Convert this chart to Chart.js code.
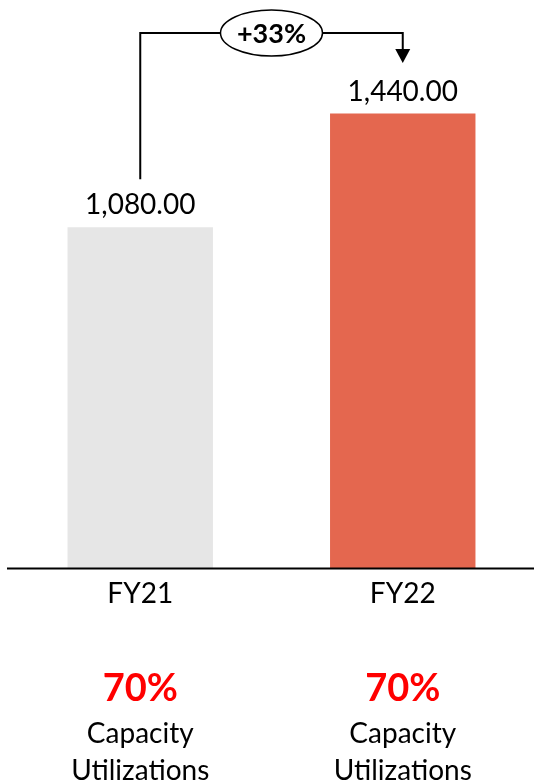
<!DOCTYPE html>
<html>
<head>
<meta charset="utf-8">
<script src="https://cdn.jsdelivr.net/npm/chart.js@4/dist/chart.umd.min.js"></script>
<style>
html,body{margin:0;padding:0;background:#fff;overflow:hidden;}
#wrap{width:534px;height:784px;position:relative;}
</style>
</head>
<body>
<div id="wrap"><canvas id="c" width="534" height="784"></canvas></div>
<script>
const categories = ["FY21", "FY22"];
const values = [1080, 1440];
const barColors = ["#E6E6E6", "#E4674F"];
const utilization = ["70%", "70%"];
const utilLines = ["Capacity", "Utilizations"];
const growthLabel = "+33%";
const yMax = 1800;

const FONT = "Lato, 'Open Sans', sans-serif";

const overlay = {
  id: 'overlay',
  afterDatasetsDraw(chart) {
    const ctx = chart.ctx;
    const xs = chart.scales.x, ys = chart.scales.y;
    const meta = chart.getDatasetMeta(0);
    ctx.save();
    // baseline
    const base = ys.getPixelForValue(0);
    ctx.strokeStyle = '#000';
    ctx.lineWidth = 2;
    ctx.beginPath();
    ctx.moveTo(7, base + 0.5);
    ctx.lineTo(chart.width, base + 0.5);
    ctx.stroke();

    // value labels
    ctx.fillStyle = '#000';
    ctx.font = '28px ' + FONT;
    ctx.textAlign = 'center';
    ctx.textBaseline = 'alphabetic';
    meta.data.forEach((bar, i) => {
      const v = values[i].toLocaleString('en-US', {minimumFractionDigits: 2, maximumFractionDigits: 2});
      ctx.fillText(v, bar.x, bar.y - 13);
    });

    // bottom utilization texts
    categories.forEach((c, i) => {
      const x = xs.getPixelForValue(i);
      ctx.fillStyle = '#FF0000';
      ctx.font = 'bold 38px ' + FONT;
      ctx.fillText(utilization[i], x, 701);
      ctx.fillStyle = '#000';
      ctx.font = '28px ' + FONT;
      ctx.fillText(utilLines[0], x, 743);
      ctx.fillText(utilLines[1], x, 780);
    });

    // connector with arrow
    const b0 = meta.data[0], b1 = meta.data[1];
    const topY = 33;
    const startY = b0.y - 48;
    const endY = 63;
    ctx.strokeStyle = '#000';
    ctx.lineWidth = 2;
    ctx.beginPath();
    ctx.moveTo(b0.x, startY);
    ctx.lineTo(b0.x, topY);
    ctx.lineTo(b1.x, topY);
    ctx.lineTo(b1.x, endY - 12);
    ctx.stroke();
    ctx.fillStyle = '#000';
    ctx.beginPath();
    ctx.moveTo(b1.x - 7.5, endY - 14);
    ctx.lineTo(b1.x + 7.5, endY - 14);
    ctx.lineTo(b1.x, endY);
    ctx.closePath();
    ctx.fill();

    // ellipse
    const cx = (b0.x + b1.x) / 2;
    ctx.beginPath();
    ctx.ellipse(cx, topY, 51, 23, 0, 0, Math.PI * 2);
    ctx.fillStyle = '#fff';
    ctx.fill();
    ctx.lineWidth = 1.5;
    ctx.strokeStyle = '#000';
    ctx.stroke();
    ctx.fillStyle = '#000';
    ctx.font = 'bold 27px ' + FONT;
    ctx.textBaseline = 'middle';
    ctx.fillText(growthLabel, cx, topY + 1);
    ctx.restore();
  }
};

new Chart(document.getElementById('c'), {
  type: 'bar',
  data: {
    labels: categories,
    datasets: [{
      data: values,
      backgroundColor: barColors,
      borderWidth: 0,
      barPercentage: 0.554,
      categoryPercentage: 1
    }]
  },
  options: {
    responsive: false,
    animation: false,
    events: [],
    layout: { padding: { left: 9, right: 0, top: 0, bottom: 0 } },
    plugins: { legend: { display: false }, tooltip: { enabled: false } },
    scales: {
      x: {
        grid: { display: false, drawTicks: false, tickLength: 0 },
        border: { display: false },
        ticks: { color: '#000', font: { family: FONT, size: 28 }, padding: 9, maxRotation: 0 },
        afterFit(scale) { scale.height = 216; }
      },
      y: {
        display: false,
        min: 0,
        max: yMax
      }
    }
  },
  plugins: [overlay]
});
</script>
</body>
</html>
